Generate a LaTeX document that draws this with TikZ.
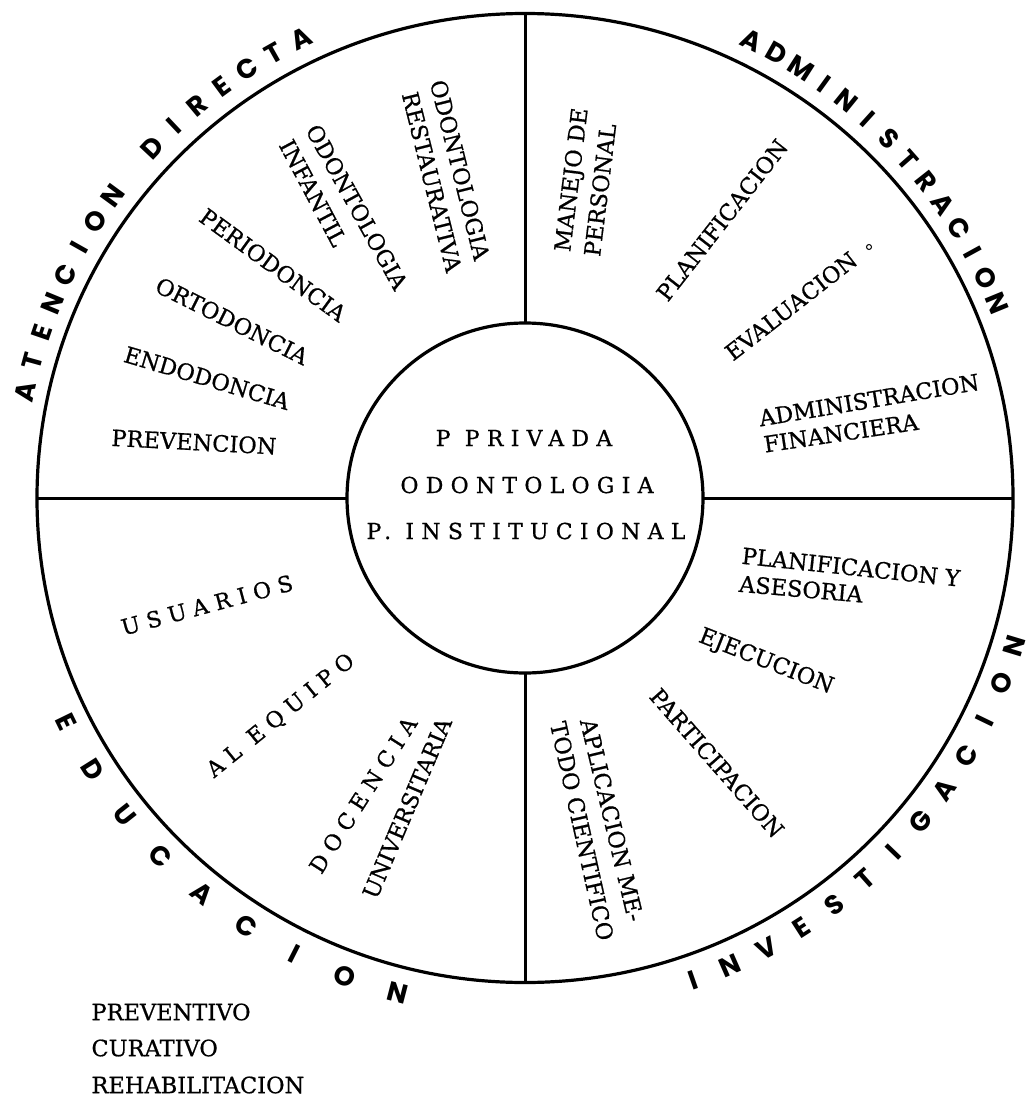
\documentclass[tikz,border=0pt]{standalone}
\usepackage{fontspec}
\setmainfont{DejaVu Serif}
\newfontfamily\lblfont{DejaVu Serif}[FakeBold=0.7]
\newfontfamily\ringfont{Poppins}
\usetikzlibrary{shapes.geometric}
\newcommand\ringword[5]{%
  \foreach \l [count=\i from 0] in {#5} {%
    \pgfmathsetmacro\ang{#2+\i*(#3)}%
    \node[ringletter, rotate={\ang+(#4)}] (#1\i) at ({525+511*cos(\ang)},{498-511*sin(\ang)}) {\l};
  }}
\begin{document}
\begin{tikzpicture}[x=1pt,y=-1pt, line width=3pt,
  lbl/.style={font=\lblfont\fontsize{22.5}{25}\selectfont, inner sep=0pt},
  spaced/.style={font=\lblfont\fontsize{22}{25}\selectfont\addfontfeatures{LetterSpace=33}, inner sep=0pt},
  ringletter/.style={font=\ringfont\bfseries\fontsize{27}{27}\selectfont, inner sep=0pt},
  ring/.style={draw, ellipse, inner sep=0pt, outer sep=0pt, line width=3.2pt}]
\useasboundingbox (0,0) rectangle (1029,1099);
\fill[white] (0,0) rectangle (1029,1099);
% circles
\node[ring, minimum width=976pt, minimum height=969pt] (outer) at (525,498) {};
\node[ring, minimum width=356pt, minimum height=350pt] (inner) at (525,498) {};
\draw (outer.north) -- (inner.north);
\draw (outer.south) -- (inner.south);
\draw (outer.west) -- (inner.west);
\draw (outer.east) -- (inner.east);
% ring titles
\ringword{at}{168}{-3.47}{-90}{A,T,E,N,C,I,O,N}
\ringword{di}{136.8}{-3.47}{-90}{D,I,R,E,C,T,A}
\ringword{ad}{63.7}{-3.18}{-90}{A,D,M,I,N,I,S,T,R,A,C,I,O,N}
\ringword{iv}{-70.8}{4.5}{90}{I,N,V,E,S,T,I,G,A,C,I,O,N}
\ringword{ed}{-154}{6.19}{90}{E,D,U,C,A,C,I,O,N}
% centre
\node[spaced] (c1) at (524,438) {P PRIVADA};
\node[spaced] (c2) at (527,485) {ODONTOLOGIA};
\node[spaced] (c3) at (526,531) {P. INSTITUCIONAL};
% atencion directa
\node[lbl, rotate=-76] (odr) at (460,170) {ODONTOLOGIA};
\node[lbl, rotate=-76] (res) at (432,182) {RESTAURATIVA};
\node[lbl, rotate=-61] (odi) at (357,207) {ODONTOLOGIA};
\node[lbl, rotate=-62] (inf) at (313,193) {INFANTIL};
\node[lbl, rotate=-36] (per) at (273,265) {PERIODONCIA};
\node[lbl, rotate=-26.5] (ort) at (232,321) {ORTODONCIA};
\node[lbl, rotate=-16.5] (end) at (207,378) {ENDODONCIA};
\node[lbl, rotate=-3] (pre) at (194,442) {PREVENCION};
% administracion
\node[lbl, rotate=83] (man) at (573,180) {MANEJO DE};
\node[lbl, rotate=83] (pers) at (600,190) {PERSONAL};
\node[lbl, rotate=52] (pla) at (722,220) {PLANIFICACION};
\node[lbl, rotate=38] (eva) at (791,306) {EVALUACION};
\draw[line width=1pt] (869,247) circle[radius=2.5];
\node[lbl, rotate=9.5] (adm) at (869,400) {ADMINISTRACION};
\node[lbl, rotate=8.5] (fin) at (841,433) {FINANCIERA};
% educacion
\node[spaced, rotate=15] (usu) at (207,605) {USUARIOS};
\node[spaced, rotate=39] (equ) at (281,716) {AL EQUIPO};
\node[spaced, rotate=57.5] (doc) at (363,795) {DOCENCIA};
\node[lbl, rotate=67] (uni) at (407,808) {UNIVERSITARIA};
% investigacion
\node[lbl, rotate=-6] (ply) at (851,567) {PLANIFICACION Y};
\node[lbl, rotate=-5] (ase) at (801,589) {ASESORIA};
\node[lbl, rotate=-21.5] (eje) at (766,662) {EJECUCION};
\node[lbl, rotate=-48.7] (par) at (717,763) {PARTICIPACION};
\node[lbl, rotate=-76.5] (apl) at (612,820) {APLICACION ME-};
\node[lbl, rotate=-77.5] (tod) at (582,831) {TODO CIENTIFICO};
% bottom list
\node[lbl, anchor=west] (prv) at (90,1012) {PREVENTIVO};
\node[lbl, anchor=west] (cur) at (90,1048) {CURATIVO};
\node[lbl, anchor=west] (reh) at (90,1085) {REHABILITACION};
\end{tikzpicture}
\end{document}
